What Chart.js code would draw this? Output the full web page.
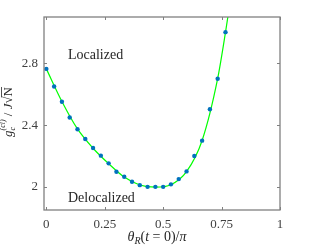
<!DOCTYPE html>
<html>
<head>
<meta charset="utf-8">
<script src="https://cdn.jsdelivr.net/npm/chart.js@4"></script>
<style>
    html, body { margin: 0; padding: 0; background: #ffffff; }
</style>
</head>
<body>
<canvas id="myChart" width="309" height="247"></canvas>
<script>
/*** datos ***/
const thetaPuntos = [0, 1/30, 2/30, 3/30, 4/30, 5/30, 6/30, 7/30, 8/30, 9/30, 10/30, 11/30,
    12/30, 13/30, 14/30, 15/30, 16/30, 17/30, 18/30, 19/30, 20/30, 21/30, 22/30, 23/30];
const gPuntos = [2.764, 2.650, 2.551, 2.449, 2.373, 2.310, 2.252, 2.202, 2.152, 2.098, 2.065, 2.033,
    2.011, 2.000, 2.000, 2.000, 2.016, 2.050, 2.100, 2.200, 2.299, 2.503, 2.700, 3.002];
// curva verde (ajuste), sigue por encima del borde superior
const thetaCurva = [0, 2/30, 4/30, 6/30, 8/30, 10/30, 12/30, 14/30, 16/30, 18/30, 20/30, 22/30, 23/30, 0.8];
const gCurva = [2.764, 2.553, 2.375, 2.250, 2.150, 2.063, 2.012, 1.998, 2.014, 2.098, 2.300, 2.702, 3.000, 3.33];
const xTicks = [0, 0.25, 0.5, 0.75, 1];
const yTicks = [2, 2.4, 2.8];

const serif = "'Times New Roman', 'Liberation Serif', 'DejaVu Serif', serif";
const colorEje = '#808080';

/*** plugin: caja, ticks internos, textos ***/
const decoracion = {
    id: 'decoracion',
    afterDraw(chart) {
        const ctx = chart.ctx;
        const a = chart.chartArea;
        const sx = chart.scales.x;
        const sy = chart.scales.y;
        ctx.save();
        ctx.strokeStyle = colorEje;
        ctx.lineWidth = 1.3;
        ctx.strokeRect(a.left, a.top, a.right - a.left, a.bottom - a.top);
        ctx.lineWidth = 1;
        ctx.beginPath();
        xTicks.forEach(function (t) {
            let px = Math.round(sx.getPixelForValue(t)) + 0.5;
            ctx.moveTo(px, a.bottom); ctx.lineTo(px, a.bottom - 3);
            ctx.moveTo(px, a.top); ctx.lineTo(px, a.top + 3);
        });
        yTicks.forEach(function (t) {
            let py = Math.round(sy.getPixelForValue(t)) + 0.5;
            ctx.moveTo(a.left, py); ctx.lineTo(a.left + 3, py);
            ctx.moveTo(a.right, py); ctx.lineTo(a.right - 3, py);
        });
        ctx.stroke();

        // textos dentro del grafico
        ctx.fillStyle = '#262626';
        ctx.font = '14px ' + serif;
        ctx.textBaseline = 'middle';
        ctx.textAlign = 'left';
        ctx.fillText('Localized', 68, 55);
        ctx.fillText('Delocalized', 68, 198);

        // etiqueta eje x: θ_R(t = 0)/π
        let piezasX = [
            { t: 'θ', f: 'italic 14px ' + serif, dy: 0 },
            { t: 'R', f: 'italic 10px ' + serif, dy: 3 },
            { t: '(', f: '14px ' + serif, dy: 0 },
            { t: 't', f: 'italic 14px ' + serif, dy: 0 },
            { t: ' = 0)/', f: '14px ' + serif, dy: 0 },
            { t: 'π', f: 'italic 14px ' + serif, dy: 0 }
        ];
        ctx.textBaseline = 'alphabetic';
        let ancho = 0;
        piezasX.forEach(function (p) { ctx.font = p.f; ancho += ctx.measureText(p.t).width; });
        let x = 157 - ancho / 2;
        piezasX.forEach(function (p) {
            ctx.font = p.f;
            ctx.fillText(p.t, x, 241 + p.dy);
            x += ctx.measureText(p.t).width;
        });

        // etiqueta eje y: g_c^(cl) / J√N
        ctx.translate(12, 112);
        ctx.rotate(-Math.PI / 2);
        ctx.font = 'italic 13px ' + serif;
        let wg = ctx.measureText('g').width;
        ctx.font = 'italic 8px ' + serif;
        let wsup = ctx.measureText('(cl)').width;
        ctx.font = '13px ' + serif;
        let wbar = ctx.measureText(' / ').width;
        ctx.font = 'italic 13px ' + serif;
        let wJ = ctx.measureText('J').width;
        ctx.font = '13px ' + serif;
        let wRad = ctx.measureText('√').width;
        let wN = ctx.measureText('N').width;
        let total = wg + wsup + wbar + wJ + wRad + wN;
        x = -total / 2;
        ctx.font = 'italic 13px ' + serif;
        ctx.fillText('g', x, 0);
        x += wg;
        ctx.font = 'italic 8px ' + serif;
        ctx.fillText('c', x, 3);
        ctx.fillText('(cl)', x, -7);
        x += wsup;
        ctx.font = '13px ' + serif;
        ctx.fillText(' / ', x, 0);
        x += wbar;
        ctx.font = 'italic 13px ' + serif;
        ctx.fillText('J', x, 0);
        x += wJ;
        ctx.font = '13px ' + serif;
        ctx.fillText('√', x, 0);
        x += wRad;
        ctx.fillText('N', x, 0);
        ctx.strokeStyle = '#262626';
        ctx.lineWidth = 0.8;
        ctx.beginPath();
        ctx.moveTo(x - 1, -10.5); ctx.lineTo(x + wN, -10.5);
        ctx.stroke();
        ctx.restore();
    }
};

const ctx = document.getElementById('myChart').getContext('2d');
const grafico = new Chart(ctx, {
    type: 'scatter',
    data: {
        datasets: [
            {
                label: 'puntos',
                data: thetaPuntos.map(function (t, i) { return { x: t, y: gPuntos[i] }; }),
                backgroundColor: '#0072BD',
                borderColor: '#0072BD',
                pointRadius: 2.2,
                pointBorderWidth: 0,
                showLine: false,
                order: 1
            },
            {
                label: 'ajuste',
                data: thetaCurva.map(function (t, i) { return { x: t, y: gCurva[i] }; }),
                borderColor: '#00ff00',
                borderWidth: 1.2,
                pointRadius: 0,
                showLine: true,
                cubicInterpolationMode: 'monotone',
                order: 2
            }
        ]
    },
    options: {
        responsive: false,
        animation: false,
        devicePixelRatio: 1,
        layout: { padding: { top: 17, right: 29, left: 0, bottom: 0 } },
        plugins: {
            legend: { display: false },
            tooltip: { enabled: false }
        },
        scales: {
            x: {
                type: 'linear',
                min: -0.01,
                max: 1,
                afterBuildTicks: function (scale) { scale.ticks = xTicks.map(function (v) { return { value: v }; }); },
                afterFit: function (scale) { scale.height = 37; },
                grid: { display: false, drawTicks: false },
                border: { display: false },
                ticks: {
                    padding: 7,
                    color: '#404040',
                    font: { family: serif, size: 13 },
                    maxRotation: 0,
                    callback: function (v) { return String(v); }
                }
            },
            y: {
                type: 'linear',
                min: 1.85,
                max: 3.1,
                afterBuildTicks: function (scale) { scale.ticks = yTicks.map(function (v) { return { value: v }; }); },
                afterFit: function (scale) { scale.width = 44; },
                grid: { display: false, drawTicks: false },
                border: { display: false },
                ticks: {
                    padding: 6,
                    color: '#404040',
                    font: { family: serif, size: 13 },
                    callback: function (v) { return String(v); }
                }
            }
        }
    },
    plugins: [decoracion]
});
</script>
</body>
</html>
